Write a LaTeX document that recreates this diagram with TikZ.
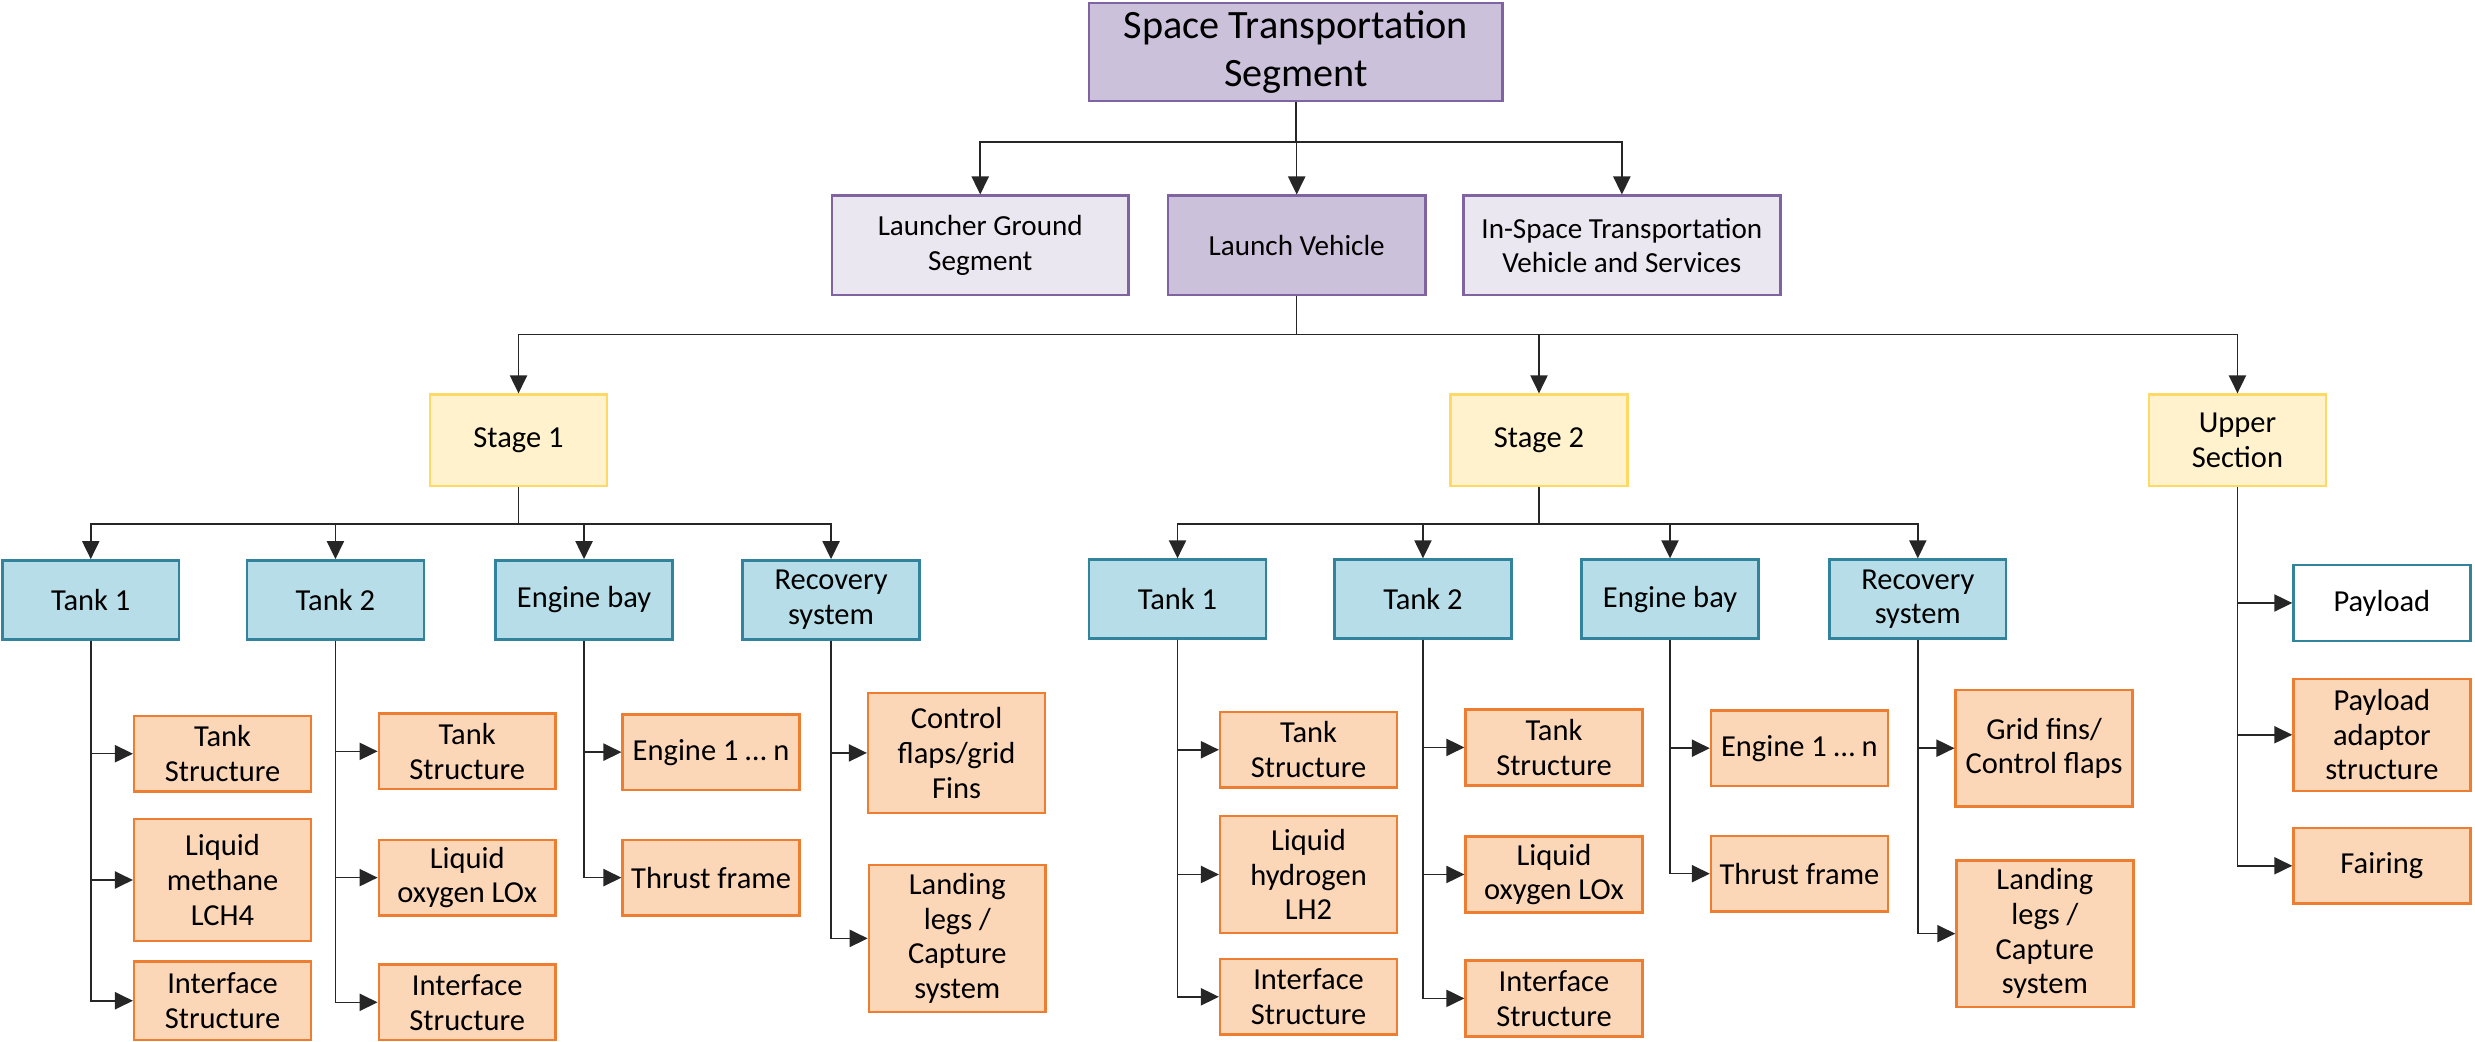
\documentclass[tikz,border=0pt]{standalone}
\usepackage{fontspec}
\setmainfont{Carlito}
\usetikzlibrary{positioning,arrows.meta}

\definecolor{segline}{HTML}{8064A2}
\definecolor{segfill}{HTML}{CCC1DA}
\definecolor{seglight}{HTML}{EBE7F0}
\definecolor{stageline}{HTML}{FFD966}
\definecolor{stagefill}{HTML}{FFF2CC}
\definecolor{partline}{HTML}{31849B}
\definecolor{partfill}{HTML}{B7DEE8}
\definecolor{itemline}{HTML}{ED7D31}
\definecolor{itemfill}{HTML}{FBD6B7}

\tikzset{
  box/.style={draw, line width=0.9pt, align=center, inner sep=2pt,
    font=\fontsize{11}{12.5}\selectfont},
  segbox/.style={box, draw=segline, fill=seglight, minimum height=1.26cm,
    font=\fontsize{10.5}{12.5}\selectfont},
  stagebox/.style={box, draw=stageline, fill=stagefill, minimum width=2.24cm, minimum height=1.16cm},
  partbox/.style={box, draw=partline, fill=partfill, minimum width=2.24cm, minimum height=1cm},
  itembox/.style={box, draw=itemline, fill=itemfill, minimum width=2.24cm, minimum height=0.96cm},
  arr/.style={draw=black!85, line width=0.55pt, -{Triangle[length=6.5pt,width=6.2pt]}},
}

\begin{document}
\begin{tikzpicture}[x=0.02cm, y=-0.02cm]

	\useasboundingbox (0,0) rectangle (1568,660);

	% Top levels
	\node[box, draw=segline, fill=segfill, minimum width=5.24cm, minimum height=1.24cm,
	  font=\fontsize{14.5}{17}\selectfont] (root) at (821,33) {Space Transportation\\Segment};

	\node[segbox, minimum width=3.76cm] (lgs) at (621,155.5) {Launcher Ground\\Segment};
	\node[segbox, fill=segfill, minimum width=3.26cm] (lv) at (821.5,155.5) {Launch Vehicle};
	\node[segbox, minimum width=4.02cm] (isv) at (1027.5,155.5) {In-Space Transportation\\Vehicle and Services};

	\coordinate (bus0) at (0,90);
	\foreach \n in {lgs,lv,isv}
		\draw[arr] (root.south) |- (\n.north |- bus0) -- (\n.north);

	% Stages
	\node[stagebox] (st1) at (328.5,279) {Stage 1};
	\node[stagebox] (st2) at (975,279) {Stage 2};
	\node[stagebox] (upper) at (1417.5,279) {Upper\\Section};

	\coordinate (bus1) at (0,212);
	\foreach \n in {st1,st2,upper}
		\draw[arr] (lv.south) |- (\n.north |- bus1) -- (\n.north);

	% Stage 1 parts
	\node[partbox] (t1a) at (57.5,380) {Tank 1};
	\node[partbox] (t2a) at (212.5,380) {Tank 2};
	\node[partbox] (eba) at (370,380) {Engine bay};
	\node[partbox] (rsa) at (526.5,380) {Recovery\\system};

	% Stage 2 parts
	\node[partbox] (t1b) at (746,379.5) {Tank 1};
	\node[partbox] (t2b) at (901.5,379.5) {Tank 2};
	\node[partbox] (ebb) at (1058,379.5) {Engine bay};
	\node[partbox] (rsb) at (1215,379.5) {Recovery\\system};

	\coordinate (bus2) at (0,332);
	\foreach \n in {t1a,t2a,eba,rsa}
		\draw[arr] (st1.south) |- (\n.north |- bus2) -- (\n.north);
	\foreach \n in {t1b,t2b,ebb,rsb}
		\draw[arr] (st2.south) |- (\n.north |- bus2) -- (\n.north);

	% Stage 1 items
	\node[itembox] (ts1a) at (141,477.5) {Tank\\Structure};
	\node[itembox, minimum height=1.54cm] (lm1a) at (141,557.5) {Liquid\\methane\\LCH4};
	\node[itembox, minimum height=1cm] (is1a) at (141,634) {Interface\\Structure};
	\node[itembox] (ts2a) at (296,476) {Tank\\Structure};
	\node[itembox] (lo2a) at (296,556) {Liquid\\oxygen LOx};
	\node[itembox] (is2a) at (296,635) {Interface\\Structure};
	\node[itembox] (ena) at (450.5,476.5) {Engine 1 … n};
	\node[itembox] (tfa) at (450.5,556) {Thrust frame};
	\node[itembox, minimum height=1.52cm] (cfa) at (606,477) {Control\\flaps/grid\\Fins};
	\node[itembox, minimum height=1.86cm] (lla) at (606.5,594.5) {Landing\\legs /\\Capture\\system};

	% Stage 2 items
	\node[itembox] (ts1b) at (829,475) {Tank\\Structure};
	\node[itembox, minimum height=1.48cm] (lh1b) at (829,554) {Liquid\\hydrogen\\LH2};
	\node[itembox] (is1b) at (829,631.5) {Interface\\Structure};
	\node[itembox] (ts2b) at (984.5,473.5) {Tank\\Structure};
	\node[itembox] (lo2b) at (984.5,554) {Liquid\\oxygen LOx};
	\node[itembox] (is2b) at (984.5,632.5) {Interface\\Structure};
	\node[itembox] (enb) at (1140,474) {Engine 1 … n};
	\node[itembox] (tfb) at (1140,553.5) {Thrust frame};
	\node[itembox, minimum height=1.48cm] (gfb) at (1295,474) {Grid fins/\\Control flaps};
	\node[itembox, minimum height=1.86cm] (llb) at (1295.5,591.5) {Landing\\legs /\\Capture\\system};

	% Upper section items
	\node[box, draw=partline, fill=white, minimum width=2.24cm, minimum height=0.96cm] (pl) at (1509,382) {Payload};
	\node[itembox, minimum height=1.42cm] (pas) at (1509,465.5) {Payload\\adaptor\\structure};
	\node[itembox] (fai) at (1509,548.5) {Fairing};

	% Side branches
	\foreach \p/\c in {t1a/ts1a,t1a/lm1a,t1a/is1a,t2a/ts2a,t2a/lo2a,t2a/is2a,
	                   eba/ena,eba/tfa,rsa/cfa,rsa/lla,
	                   t1b/ts1b,t1b/lh1b,t1b/is1b,t2b/ts2b,t2b/lo2b,t2b/is2b,
	                   ebb/enb,ebb/tfb,rsb/gfb,rsb/llb,
	                   upper/pl,upper/pas,upper/fai}
		\draw[arr] (\p.south) |- (\c.west);

\end{tikzpicture}
\end{document}
